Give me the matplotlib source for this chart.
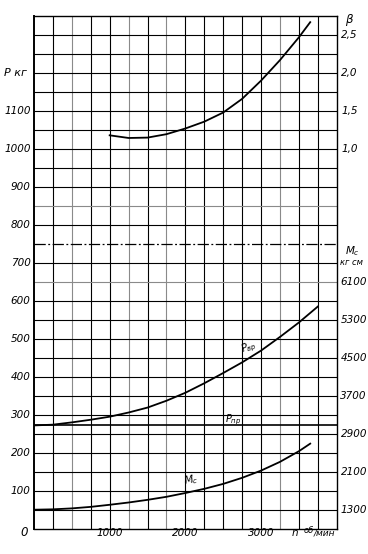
import numpy as np
import matplotlib
matplotlib.use("Agg")
import matplotlib.pyplot as plt

# n, об/мин
n_vr = [0, 250, 500, 750, 1000, 1250, 1500, 1750, 2000, 2250, 2500, 2750,
        3000, 3250, 3500, 3750]
p_vr = [272, 274, 280, 287, 295, 306, 319, 337, 358, 383, 410, 438,
        469, 505, 543, 585]

n_pr = [0, 4000]
p_pr = [272, 272]

n_mc = [0, 250, 500, 750, 1000, 1250, 1500, 1750, 2000, 2250, 2500, 2750,
        3000, 3250, 3500, 3650]
mc = [1300, 1308, 1328, 1360, 1404, 1452, 1508, 1572, 1652, 1740, 1844, 1972,
      2124, 2308, 2532, 2692]

n_beta = [1000, 1250, 1500, 1750, 2000, 2250, 2500, 2750, 3000, 3250, 3500, 3650]
beta = [1.18, 1.145, 1.15, 1.195, 1.27, 1.36, 1.48, 1.66, 1.90, 2.17, 2.47, 2.67]

p_ticks = [100, 200, 300, 400, 500, 600, 700, 800, 900, 1000, 1100]
beta_ticks = [1.0, 1.5, 2.0, 2.5]
mc_ticks = [1300, 2100, 2900, 3700, 4500, 5300, 6100]
n_ticks = [1000, 2000, 3000]

# scale links to left axis (P, кг)
def mc_to_p(m):
    return (np.asarray(m) - 900) / 8.0

def beta_to_p(b):
    return 1000 + 200 * (np.asarray(b) - 1)

FONT = ["Liberation Sans Narrow", "DejaVu Sans"]

fig = plt.figure(figsize=(3.68, 5.54), dpi=100)
ax = fig.add_axes([34/368, 25.3/554, 302.7/368, 512.6/554])
ax.set_xlim(0, 4000)
ax.set_ylim(0, 1350)

# grid
gray_v = [500, 1250, 1750, 3250]
for x in np.arange(250, 4000, 250):
    c = "#8a8a8a" if x in gray_v else "black"
    ax.axvline(x, color=c, lw=0.8, zorder=1)
for y in np.arange(50, 1350, 50):
    if y == 750:
        ax.axhline(y, color="black", lw=0.9, ls=(0, (9, 2, 1.5, 2)), zorder=1)
    else:
        c = "#8a8a8a" if y in (650, 850) else "black"
        ax.axhline(y, color=c, lw=0.8, zorder=1)

for s in ax.spines.values():
    s.set_linewidth(1.0)
ax.spines["left"].set_linewidth(1.4)

# curves
ax.plot(n_vr, p_vr, color="black", lw=1.3, zorder=3)
ax.plot(n_pr, p_pr, color="black", lw=1.2, zorder=3)
ax.plot(n_mc, mc_to_p(mc), color="black", lw=1.3, zorder=3)
ax.plot(n_beta, beta_to_p(beta), color="black", lw=1.3, zorder=3)

tfont = dict(fontsize=7.5, style="italic", color="black", family=FONT)

ax.set_xticks([])
ax.set_yticks([])
for p in p_ticks:
    ax.text(-45, p, str(p), ha="right", va="center", **tfont)
for v in n_ticks:
    ax.text(v, -12, str(v), ha="center", va="center", **tfont)
ax.text(-75, -10, "0", ha="right", va="center", fontsize=8.5, style="italic",
        family=FONT)
ax.text(3450, -12, "n", ha="center", va="center", **tfont)
ax.text(3560, -6, "об", ha="left", va="center", fontsize=6, style="italic",
        family=FONT)
ax.text(3700, -12, "/мин", ha="left", va="center", fontsize=6.5, style="italic",
        family=FONT)
ax.text(-250, 1200, "P кг", ha="center", va="center", fontsize=8,
        style="italic", family=FONT)

for b in beta_ticks:
    ax.text(4060, beta_to_p(b), f"{b:.1f}".replace(".", ","), ha="left",
            va="center", **tfont)
ax.text(4110, 1340, "β", ha="left", va="center", fontsize=8.5, style="italic",
        family=FONT)

for m in mc_ticks:
    ax.text(4050, mc_to_p(m), str(m), ha="left", va="center", **tfont)
ax.text(4110, 730, "$M_c$", ha="left", va="center", fontsize=7.5)
ax.text(4040, 702, "кг см", ha="left", va="center", fontsize=6, style="italic",
        family=FONT)

ax.text(2840, 478, "$P_{вр}$", ha="center", va="center", fontsize=7, rotation=20)
ax.text(2630, 287, "$P_{пр}$", ha="center", va="center", fontsize=7)
ax.text(2080, 128, "$M_c$", ha="center", va="center", fontsize=7.5, rotation=10)

fig.savefig("out.png", dpi=100)
